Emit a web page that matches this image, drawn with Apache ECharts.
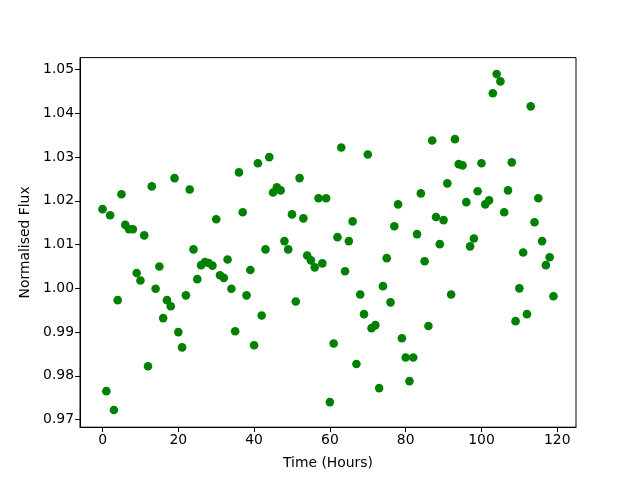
<!DOCTYPE html>
<html>
<head>
<meta charset="utf-8">
<script src="https://cdn.jsdelivr.net/npm/echarts@6/dist/echarts.min.js"></script>
<style>html,body{margin:0;padding:0;background:#fff;}#c{width:640px;height:480px;}</style>
</head>
<body>
<div id="c"></div>
<script>
var timeHours = [];
for (var i = 0; i < 120; i++) timeHours.push(i);
var flux = [
1.0181,0.9765,1.0167,0.9722,0.9973,1.0215,1.0145,1.0135,1.0135,1.0035,
1.0018,1.0121,0.9822,1.0233,0.9999,1.0050,0.9932,0.9973,0.9959,1.0252,
0.9900,0.9865,0.9984,1.0226,1.0089,1.0021,1.0053,1.0060,1.0058,1.0052,
1.0158,1.0030,1.0024,1.0066,0.9999,0.9902,1.0265,1.0174,0.9984,1.0042,
0.9870,1.0286,0.9938,1.0089,1.0300,1.0219,1.0231,1.0224,1.0108,1.0089,
1.0169,0.9970,1.0252,1.0160,1.0075,1.0064,1.0048,1.0206,1.0057,1.0206,
0.9740,0.9874,1.0117,1.0322,1.0039,1.0108,1.0153,0.9827,0.9986,0.9941,
1.0306,0.9909,0.9916,0.9772,1.0005,1.0069,0.9968,1.0142,1.0192,0.9886,
0.9842,0.9788,0.9842,1.0124,1.0217,1.0062,0.9914,1.0338,1.0163,1.0101,
1.0156,1.0240,0.9986,1.0341,1.0284,1.0281,1.0197,1.0096,1.0114,1.0222,
1.0286,1.0192,1.0201,1.0446,1.0490,1.0473,1.0174,1.0224,1.0288,0.9925,
1.0000,1.0082,0.9941,1.0416,1.0151,1.0206,1.0108,1.0053,1.0071,0.9982
];
var xTicks = [0, 20, 40, 60, 80, 100, 120];
var yTicks = [0.97, 0.98, 0.99, 1.00, 1.01, 1.02, 1.03, 1.04, 1.05];

var data = timeHours.map(function (t, i) { return [t, flux[i]]; });
var font = 'DejaVu Sans';
var chart = echarts.init(document.getElementById('c'), null, {renderer: 'canvas'});
chart.setOption({
  animation: false,
  backgroundColor: '#fff',
  grid: {left: 80, right: 64, top: 57.6, bottom: 52.8, show: true, borderColor: '#000', borderWidth: 1, backgroundColor: '#fff'},
  xAxis: {
    type: 'value', min: -5.95, max: 124.95,
    name: 'Time (Hours)', nameLocation: 'middle', nameGap: 29,
    nameTextStyle: {fontFamily: font, fontSize: 13.9, color: '#000'},
    axisLine: {show: true, onZero: false, lineStyle: {color: '#000', width: 1}},
    axisTick: {show: true, length: 4.9, inside: false, customValues: xTicks, lineStyle: {color: '#000', width: 1}},
    axisLabel: {customValues: xTicks, fontFamily: font, fontSize: 13.9, color: '#000', margin: 6},
    splitLine: {show: false}
  },
  yAxis: {
    type: 'value', min: 0.96826, max: 1.05274,
    name: 'Normalised Flux', nameLocation: 'middle', nameGap: 47,
    nameTextStyle: {fontFamily: font, fontSize: 13.9, color: '#000'},
    axisLine: {show: true, onZero: false, lineStyle: {color: '#000', width: 1}},
    axisTick: {show: true, length: 4.9, inside: false, customValues: yTicks, lineStyle: {color: '#000', width: 1}},
    axisLabel: {customValues: yTicks, fontFamily: font, fontSize: 13.9, color: '#000', margin: 6,
      formatter: function (v) { return v.toFixed(2); }},
    splitLine: {show: false}
  },
  series: [{
    type: 'scatter',
    data: data,
    symbol: 'circle',
    symbolSize: 8.6,
    itemStyle: {color: '#008000', opacity: 1}
  }]
});
</script>
</body>
</html>
